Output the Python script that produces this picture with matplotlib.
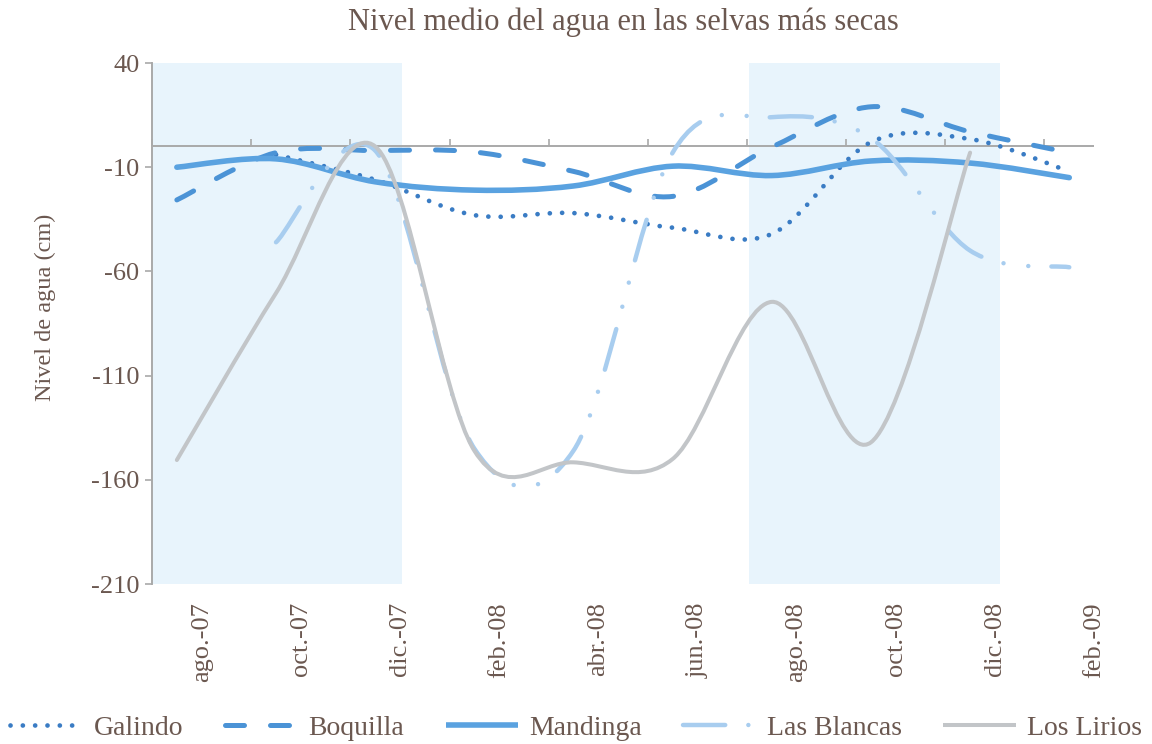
import numpy as np
import matplotlib
matplotlib.use('Agg')
import matplotlib.pyplot as plt
from matplotlib.path import Path
from matplotlib.patches import PathPatch
from matplotlib.lines import Line2D

plt.rcParams['font.family'] = ['Liberation Serif', 'DejaVu Serif']
plt.rcParams['axes.unicode_minus'] = False

# ---------- datos (meses contados desde ago.-07; muestreo bimestral) ----------
meses = [-0.5, 1.5, 3.5, 5.5, 7.5, 9.5, 11.5, 13.5, 15.5, 17.5]
etiquetas = ['ago.-07', 'oct.-07', 'dic.-07', 'feb.-08', 'abr.-08',
             'jun.-08', 'ago.-08', 'oct.-08', 'dic.-08', 'feb.-09']

galindo = [None, -4, -16, -33, -32, -39, -42, 2, 3.5, -12]
boquilla = [-25.7, -3, -2, -2.7, -12, -24, -0.3, 19, 7, -3]
mandinga = [-10, -6, -17, -21, -19, -9.5, -14, -7, -8, -15]
las_blancas = [None, -46, -2, -145, -146, -3, 14, 4, -50, -58]
los_lirios = [-150.5, -70.4, 0, -146, -151.6, -150, -74.6, -142, -3, None]

# temporadas sombreadas (jul.-dic.)
temporadas = [(-1, 4.05), (11.05, 16.1)]

TXT = '#6b5850'
GRIS = '#a9a9a9'


def curva_suave(x, y):
    """Línea suavizada tipo Excel: Bézier cúbica por los puntos (Catmull-Rom 1/6)."""
    p = np.array([(a, b) for a, b in zip(x, y) if b is not None], float)
    verts = [p[0]]; codes = [Path.MOVETO]
    for i in range(len(p) - 1):
        p0 = p[max(i - 1, 0)]; p1 = p[i]; p2 = p[i + 1]; p3 = p[min(i + 2, len(p) - 1)]
        verts += [p1 + (p2 - p0) / 6., p2 - (p3 - p1) / 6., p2]
        codes += [Path.CURVE4] * 3
    return Path(verts, codes)


estilos = [
    ('Galindo', galindo, dict(color='#3a7cc4', lw=3.4, ls=(0, (0.01, 2.6)))),
    ('Boquilla', boquilla, dict(color='#4b93d6', lw=3.6, ls=(0, (3.8, 5.2)))),
    ('Mandinga', mandinga, dict(color='#5aa2e0', lw=4.0, ls='-')),
    ('Las Blancas', las_blancas, dict(color='#a8cdef', lw=3.2,
                                      ls=(0, (9.5, 5.2, 0.01, 5.6, 0.01, 5.2)))),
    ('Los Lirios', los_lirios, dict(color='#c2c5c8', lw=2.9, ls='-')),
]

fig = plt.figure(figsize=(11.52, 7.44), dpi=100)
ax = fig.add_axes([0.132, 0.215, 0.8177, 0.7003])
ax.set_xlim(-1, 18)
ax.set_ylim(-210, 40)

for a, b in temporadas:
    ax.axvspan(a, b, color='#e8f4fc', zorder=0, lw=0)

ax.axhline(0, color=GRIS, lw=1.4, zorder=1)

handles = []
for nombre, vals, st in estilos:
    pp = PathPatch(curva_suave(meses, vals), fill=False, edgecolor=st['color'],
                   lw=st['lw'], linestyle=st['ls'], capstyle='round',
                   joinstyle='round', zorder=3)
    ax.add_patch(pp)
    h = Line2D([], [], color=st['color'], lw=st['lw'], linestyle=st['ls'],
               dash_capstyle='round', solid_capstyle='butt')
    handles.append(h)

# ejes
for s in ('top', 'right', 'bottom'):
    ax.spines[s].set_visible(False)
ax.spines['left'].set_color(GRIS)
ax.spines['left'].set_linewidth(1.4)
ax.set_yticks([40, -10, -60, -110, -160, -210])
ax.tick_params(axis='y', direction='out', length=5, width=1.2, color=GRIS,
               labelsize=19, labelcolor=TXT, pad=4)
ax.set_xticks(range(0, 19, 2))
ax.set_xticklabels(etiquetas, rotation=90, va='top', ha='center')
ax.tick_params(axis='x', length=0, labelsize=19, labelcolor=TXT, pad=13)

# eje horizontal en y=0 con sus marcas
y0, y1 = ax.get_ylim()
sec = ax.secondary_xaxis((0 - y0) / (y1 - y0))
sec.set_xticks(range(-1, 19, 2))
sec.set_xticklabels([])
sec.tick_params(direction='out', length=5, width=1.2, color=GRIS)
for s in sec.spines.values():
    s.set_visible(False)

fig.text(0.541, 0.970, 'Nivel medio del agua en las selvas más secas',
         ha='center', va='center', fontsize=22, color=TXT)
fig.text(0.039, 0.587, 'Nivel de agua (cm)', rotation=90, ha='center',
         va='center', fontsize=17.5, color=TXT)

fig.legend(handles, [e[0] for e in estilos], loc='center', ncol=5,
           bbox_to_anchor=(0.5, 0.0215), frameon=False, fontsize=20,
           handlelength=2.6, handletextpad=0.4, columnspacing=1.5,
           labelcolor=TXT)

fig.savefig('out.png', dpi=100)
